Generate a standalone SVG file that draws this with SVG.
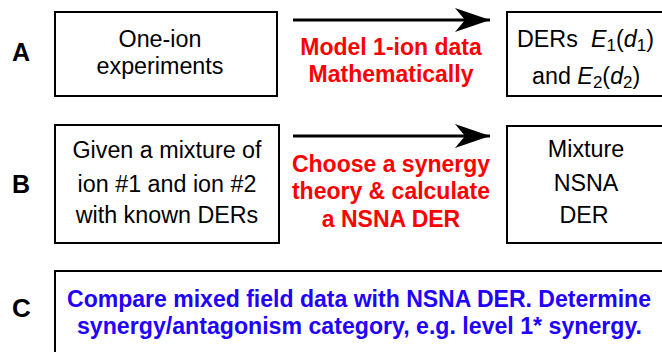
<svg xmlns="http://www.w3.org/2000/svg" width="662" height="352" viewBox="0 0 662 352">
  <defs>
    <style>
      .box { fill: #ffffff; stroke: #000000; stroke-width: 2; }
      .lbl { font-family: "Liberation Sans", Arial, sans-serif; font-weight: bold; font-size: 25px; fill: #000000; }
      .txt { font-family: "Liberation Sans", Arial, sans-serif; font-size: 23.3px; fill: #000000; text-anchor: middle; }
      .red { font-family: "Liberation Sans", Arial, sans-serif; font-weight: bold; font-size: 23px; fill: #ff0000; text-anchor: middle; }
      .blue { font-family: "Liberation Sans", Arial, sans-serif; font-weight: bold; font-size: 23px; fill: #2200ff; text-anchor: middle; }
      .sub { font-size: 17px; }
      .it { font-style: italic; }
      .conn { stroke: #000000; stroke-width: 3; fill: none; }
    </style>
    <marker id="head" viewBox="0 0 36 24" refX="35" refY="12" markerWidth="36" markerHeight="24" markerUnits="userSpaceOnUse" orient="auto">
      <path d="M0,0 L35,12 L0,24 L10,12 Z" fill="#000000"/>
    </marker>
  </defs>

  <rect width="662" height="352" fill="#ffffff"/>

  <!-- row labels -->
  <text class="lbl" x="12" y="61">A</text>
  <text class="lbl" x="12" y="193">B</text>
  <text class="lbl" x="12" y="317" style="font-size:26px">C</text>

  <!-- connectors -->
  <g id="connectors">
    <line class="conn" x1="293" y1="20" x2="490" y2="20" marker-end="url(#head)"/>
    <line class="conn" x1="293" y1="136" x2="490" y2="136" marker-end="url(#head)"/>
    <text class="red" x="391" y="55">Model 1-ion data</text>
    <text class="red" x="391" y="82">Mathematically</text>
    <text class="red" x="391" y="172">Choose a synergy</text>
    <text class="red" x="391" y="199">theory &amp; calculate</text>
    <text class="red" x="391" y="227">a NSNA DER</text>
  </g>

  <g id="one-ion">
    <rect class="box" x="55" y="12" width="222" height="84"/>
    <text class="txt" x="160" y="47">One-ion</text>
    <text class="txt" x="160" y="74">experiments</text>
  </g>

  <g id="ders">
    <rect class="box" x="507" y="12" width="170" height="84"/>
    <text class="txt" style="text-anchor:start" x="517" y="47">DERs <tspan class="it" x="591">E</tspan><tspan class="sub" dy="4">1</tspan><tspan dy="-4">(</tspan><tspan class="it">d</tspan><tspan class="sub" dy="4">1</tspan><tspan dy="-4">)</tspan></text>
    <text class="txt" style="text-anchor:start" x="532" y="84">and <tspan class="it">E</tspan><tspan class="sub" dy="4">2</tspan><tspan dy="-4">(</tspan><tspan class="it">d</tspan><tspan class="sub" dy="4">2</tspan><tspan dy="-4">)</tspan></text>
  </g>

  <g id="mixture-input">
    <rect class="box" x="55" y="125" width="224" height="118"/>
    <text class="txt" x="167" y="158">Given a mixture of</text>
    <text class="txt" x="167" y="192">ion #1 and ion #2</text>
    <text class="txt" x="167" y="223">with known DERs</text>
  </g>

  <g id="nsna-der">
    <rect class="box" x="507" y="126" width="170" height="117"/>
    <text class="txt" x="586" y="157">Mixture</text>
    <text class="txt" x="586" y="191">NSNA</text>
    <text class="txt" x="584" y="223">DER</text>
  </g>

  <g id="compare">
    <rect class="box" x="55" y="271" width="620" height="100"/>
    <text class="blue" x="359" y="307" textLength="584" lengthAdjust="spacingAndGlyphs">Compare mixed field data with NSNA DER. Determine</text>
    <text class="blue" x="359.5" y="334" textLength="565" lengthAdjust="spacingAndGlyphs">synergy/antagonism category, e.g. level 1* synergy.</text>
  </g>
</svg>
